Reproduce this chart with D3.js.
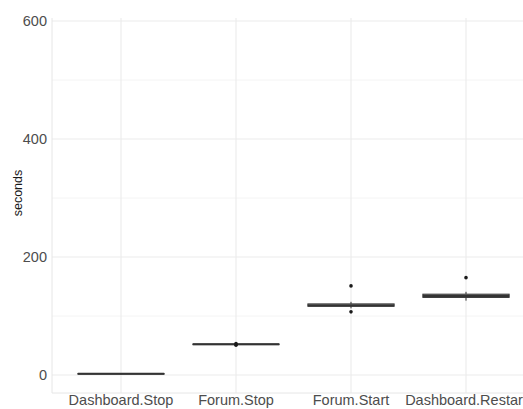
<!DOCTYPE html>
<html><head><meta charset="utf-8">
<script src="https://cdn.jsdelivr.net/npm/d3@7"></script>
<style>body{margin:0;background:#fff}svg{display:block}</style>
</head><body><svg id="c" width="523" height="409"></svg>
<script>
const categories = ["Dashboard.Stop","Forum.Stop","Forum.Start","Dashboard.Restart"];
const q1 = [1.5, 51.5, 116.5, 131.5];
const medians = [2, 52, 118, 134];
const q3 = [2.5, 52.5, 120.5, 137];
const whiskerLow = [1, 51, 113, 126];
const whiskerHigh = [3, 53, 124, 141];
const outliers = [[], [50.5, 53.5], [151, 107], [165]];
const yTicks = [0, 200, 400, 600];
const yMinor = [100, 300, 500];

const svg = d3.select("#c");
const pLeft = 52, pBottom = 393, pTop = 18;
const step = 115;
const x = d3.scaleBand().domain(categories).range([pLeft + 0.1*step, pLeft + 4.1*step]).paddingInner(0).paddingOuter(0);
const bw = x.bandwidth();
const y = d3.scaleLinear().domain([0, 600]).range([375, 21]);

const g = svg.append("g");
g.selectAll(".minor").data(yMinor).enter().append("line")
  .attr("x1", pLeft).attr("x2", 523).attr("y1", d=>y(d)).attr("y2", d=>y(d))
  .attr("stroke", "#f4f4f4").attr("stroke-width", 1);
g.selectAll(".major").data(yTicks).enter().append("line")
  .attr("x1", pLeft).attr("x2", 523).attr("y1", d=>y(d)).attr("y2", d=>y(d))
  .attr("stroke", "#ebebeb").attr("stroke-width", 1.1);
g.selectAll(".vmajor").data(categories).enter().append("line")
  .attr("x1", d=>x(d)+bw/2).attr("x2", d=>x(d)+bw/2).attr("y1", pTop).attr("y2", pBottom)
  .attr("stroke", "#ebebeb").attr("stroke-width", 1.1);
g.append("line").attr("x1", pLeft).attr("x2", pLeft).attr("y1", pTop).attr("y2", pBottom).attr("stroke", "#e6e6e6");
g.append("line").attr("x1", pLeft).attr("x2", 523).attr("y1", pBottom).attr("y2", pBottom).attr("stroke", "#e6e6e6");

g.selectAll(".yl").data(yTicks).enter().append("text")
  .attr("x", 47).attr("y", d=>y(d)).attr("dy", "0.35em").attr("text-anchor", "end")
  .attr("font-family", "Liberation Sans, Arial, sans-serif").attr("font-size", 14.5)
  .attr("fill", "#4d4d4d").text(d=>d);
g.selectAll(".xl").data(categories).enter().append("text")
  .attr("x", d=>x(d)+bw/2).attr("y", 405).attr("text-anchor", "middle")
  .attr("font-family", "Liberation Sans, Arial, sans-serif").attr("font-size", 14.5)
  .attr("fill", "#4d4d4d").text(d=>d);
g.append("text").attr("transform", `translate(22,193) rotate(-90)`)
  .attr("text-anchor", "middle").attr("font-family", "Liberation Sans, Arial, sans-serif")
  .attr("font-size", 12.5).attr("fill", "#1a1a1a").text("seconds");

const boxW = bw*0.75;
categories.forEach((c,i)=>{
  const cx = x(c)+bw/2;
  const bg = g.append("g");
  bg.append("line").attr("x1", cx).attr("x2", cx).attr("y1", y(whiskerHigh[i])).attr("y2", y(q3[i])).attr("stroke", "#333").attr("stroke-width", 1);
  bg.append("line").attr("x1", cx).attr("x2", cx).attr("y1", y(q1[i])).attr("y2", y(whiskerLow[i])).attr("stroke", "#333").attr("stroke-width", 1);
  bg.append("rect").attr("x", cx-boxW/2).attr("width", boxW)
    .attr("y", y(q3[i])).attr("height", Math.max(0.5, y(q1[i])-y(q3[i])))
    .attr("fill", "#8c8c8c").attr("stroke", "#333").attr("stroke-width", 1);
  bg.append("line").attr("x1", cx-boxW/2).attr("x2", cx+boxW/2).attr("y1", y(medians[i])).attr("y2", y(medians[i]))
    .attr("stroke", "#333").attr("stroke-width", 2);
  bg.selectAll("circle").data(outliers[i]).enter().append("circle")
    .attr("cx", cx).attr("cy", d=>y(d)).attr("r", 1.8).attr("fill", "#1a1a1a");
});
</script></body></html>
